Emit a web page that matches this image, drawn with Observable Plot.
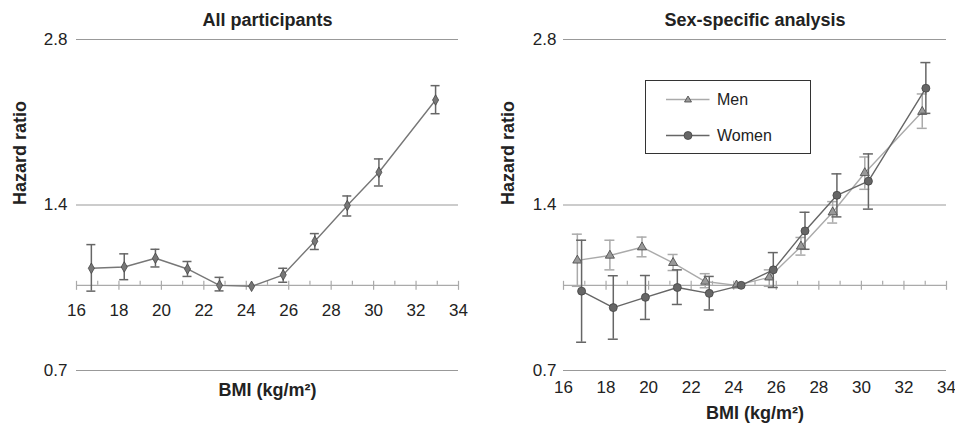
<!DOCTYPE html>
<html><head><meta charset="utf-8">
<script src="https://cdn.jsdelivr.net/npm/d3@7"></script>
<script src="https://cdn.jsdelivr.net/npm/@observablehq/plot@0.6"></script>
<style>
body{margin:0;background:#fff;}
#wrap{position:relative;width:955px;height:429px;display:flex;}
#legend{position:absolute;left:645px;top:80px;width:166px;height:74px;box-sizing:border-box;border:1.5px solid #333;background:#fff;font:16px "Liberation Sans",Arial,sans-serif;color:#222;}
#legend span{position:absolute;left:71px;line-height:20px;}
</style></head><body>
<div id="wrap"><div id="left"></div><div id="right"></div>
<div id="legend">
<svg width="163" height="71" style="position:absolute;left:0;top:0">
<line x1="20" x2="63.5" y1="18.5" y2="18.5" stroke="#aaa" stroke-width="1.3"/>
<path d="M42,15 L45.5,21 L38.5,21 Z" fill="#999" stroke="#444" stroke-width="0.8"/>
<line x1="20" x2="63.5" y1="54.5" y2="54.5" stroke="#666" stroke-width="1.3"/>
<circle cx="42" cy="54.5" r="4" fill="#666" stroke="#444" stroke-width="0.8"/>
</svg>
<span style="top:8.5px">Men</span>
<span style="top:44.5px">Women</span>
</div>
</div>
<script>
// ---- data ----
const yTicks = [0.7, 1.4, 2.8];
const xMajor = [16, 18, 20, 22, 24, 26, 28, 30, 32, 34];
const xMinor = [17, 19, 21, 23, 25, 27, 29, 31, 33];

const bmiAll = [16.7, 18.25, 19.72, 21.23, 22.74, 24.25, 25.74, 27.23, 28.76, 30.25, 32.92];
const hrAll  = [1.074, 1.080, 1.120, 1.071, 1.000, 0.996, 1.045, 1.203, 1.397, 1.606, 2.173];
const loAll  = [0.976, 1.024, 1.080, 1.038, 0.977, null, 1.013, 1.162, 1.337, 1.516, 2.052];
const hiAll  = [1.186, 1.141, 1.163, 1.105, 1.034, null, 1.074, 1.242, 1.454, 1.698, 2.308];

const bmiMen = [16.65, 18.18, 19.69, 21.15, 22.66, 24.13, 25.67, 27.16, 28.65, 30.16, 32.86];
const hrMen  = [1.110, 1.133, 1.173, 1.099, 1.016, 1.000, 1.034, 1.177, 1.358, 1.601, 2.069];
const loMen  = [0.996, 1.067, 1.127, 1.064, 0.990, null, 0.996, 1.135, 1.298, 1.495, 1.930];
const hiMen  = [1.239, 1.208, 1.224, 1.138, 1.050, null, 1.067, 1.222, 1.420, 1.712, 2.229];

const bmiWomen = [16.85, 18.34, 19.85, 21.35, 22.85, 24.35, 25.86, 27.35, 28.85, 30.33, 33.03];
const hrWomen  = [0.976, 0.911, 0.951, 0.991, 0.967, 1.000, 1.067, 1.256, 1.458, 1.547, 2.283];
const loWomen  = [0.788, 0.798, 0.867, 0.923, 0.902, null, 0.991, 1.163, 1.332, 1.376, 2.055];
const hiWomen  = [1.208, 1.041, 1.042, 1.067, 1.038, null, 1.147, 1.358, 1.595, 1.734, 2.542];

const rows = (xs, ys, los, his) => xs.map((x, i) => ({x, y: ys[i], lo: los[i], hi: his[i]}));
const allData = rows(bmiAll, hrAll, loAll, hiAll);
const menData = rows(bmiMen, hrMen, loMen, hiMen);
const womenData = rows(bmiWomen, hrWomen, loWomen, hiWomen);

const FONT = "Liberation Sans, Arial, sans-serif";
const TXT = "#222";
const T = {fill: TXT, lineAnchor: "middle"};

function seriesMarks(data, {line, bar, fill, stroke, symbol, r, cap}) {
  const eb = data.filter(d => d.lo != null);
  return [
    Plot.ruleX(eb, {x: "x", y1: "lo", y2: "hi", stroke: bar, strokeWidth: 1.5}),
    Plot.ruleY(eb, {x1: "x", x2: "x", y: "lo", insetLeft: -cap, insetRight: -cap, stroke: bar, strokeWidth: 1.5}),
    Plot.ruleY(eb, {x1: "x", x2: "x", y: "hi", insetLeft: -cap, insetRight: -cap, stroke: bar, strokeWidth: 1.5}),
    Plot.line(data, {x: "x", y: "y", stroke: line, strokeWidth: 1.4}),
    Plot.dot(data, {x: "x", y: "y", symbol, r, fill, stroke, strokeWidth: 0.8})
  ];
}

function frameMarks(dxY) {
  return [
    Plot.ruleY(yTicks, {stroke: "#999", strokeWidth: 1}),
    Plot.text(yTicks, {x: 16, y: d => d, text: d => d.toFixed(1), textAnchor: "end", dx: dxY, fontSize: 17, ...T}),
    Plot.ruleY([1], {stroke: "#aaa", strokeWidth: 1.2}),
    Plot.ruleX(xMajor, {x: d => d, y1: 1, y2: 1, insetTop: -4, insetBottom: -5, stroke: "#aaa", strokeWidth: 1.2}),
    Plot.ruleX(xMinor, {x: d => d, y1: 1, y2: 1, insetTop: -4, insetBottom: 0, stroke: "#aaa", strokeWidth: 1.2})
  ];
}

const left = Plot.plot({
  width: 478, height: 429,
  marginLeft: 76, marginRight: 20, marginTop: 39, marginBottom: 59,
  x: {domain: [16, 34], axis: null},
  y: {type: "log", domain: [0.7, 2.8], axis: null},
  style: {fontFamily: FONT, background: "#fff", color: TXT},
  marks: [
    ...frameMarks(-9),
    Plot.text(xMajor, {x: d => d, y: 1, dy: 25, text: d => String(d), fontSize: 17, ...T}),
    Plot.text(["All participants"], {frameAnchor: "top", dy: -19, text: d => d, fontWeight: "bold", fontSize: 18, ...T}),
    Plot.text(["Hazard ratio"], {frameAnchor: "left", dx: -56, rotate: -90, text: d => d, fontWeight: "bold", fontSize: 18, ...T}),
    Plot.text(["BMI (kg/m²)"], {frameAnchor: "bottom", dy: 20, text: d => d, fontWeight: "bold", fontSize: 18, ...T}),
    ...seriesMarks(allData, {line: "#777", bar: "#666", fill: "#777", stroke: "#444", symbol: "diamond", r: 3.2, cap: 4.5})
  ]
});

const right = Plot.plot({
  width: 477, height: 429,
  marginLeft: 85, marginRight: 9, marginTop: 39, marginBottom: 59,
  x: {domain: [16, 34], axis: null},
  y: {type: "log", domain: [0.7, 2.8], axis: null},
  style: {fontFamily: FONT, background: "#fff", color: TXT},
  marks: [
    ...frameMarks(-7),
    Plot.text(xMajor, {x: d => d, frameAnchor: "bottom", dy: 17, text: d => String(d), fontSize: 17, ...T}),
    Plot.text(["Sex-specific analysis"], {frameAnchor: "top", dy: -19, text: d => d, fontWeight: "bold", fontSize: 18, ...T}),
    Plot.text(["Hazard ratio"], {frameAnchor: "left", dx: -55, rotate: -90, text: d => d, fontWeight: "bold", fontSize: 18, ...T}),
    Plot.text(["BMI (kg/m²)"], {frameAnchor: "bottom", dy: 43, text: d => d, fontWeight: "bold", fontSize: 18, ...T}),
    ...seriesMarks(menData, {line: "#aaa", bar: "#aaa", fill: "#999", stroke: "#444", symbol: "triangle", r: 3.4, cap: 5}),
    ...seriesMarks(womenData, {line: "#666", bar: "#666", fill: "#666", stroke: "#444", symbol: "circle", r: 4, cap: 5})
  ]
});

document.getElementById("left").append(left);
document.getElementById("right").append(right);
</script>
</body></html>
